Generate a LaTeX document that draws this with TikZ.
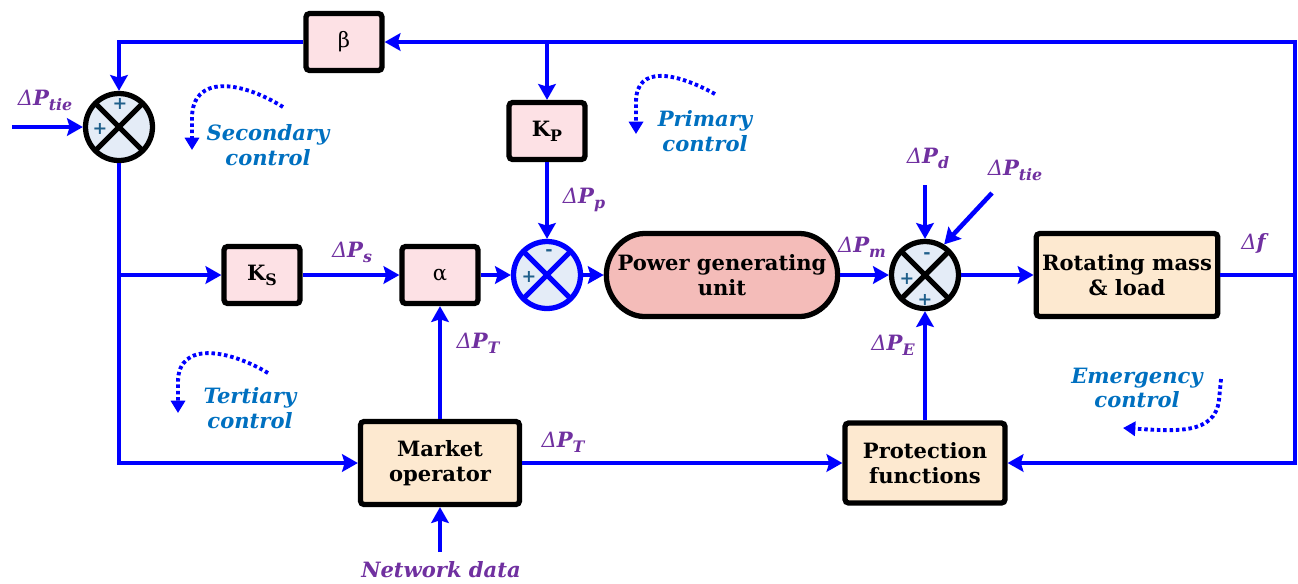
\documentclass[tikz,border=0pt]{standalone}
\usepackage{fontspec}
\setmainfont{DejaVu Serif}
\usetikzlibrary{arrows.meta, shapes.misc, positioning}

\definecolor{flowblue}{HTML}{0000FF}
\definecolor{lblpurple}{HTML}{7030A0}
\definecolor{ctrlblue}{HTML}{0070C0}
\definecolor{gainpink}{HTML}{FDE1E5}
\definecolor{blockbisque}{HTML}{FDE9D0}
\definecolor{unitsalmon}{HTML}{F4BCB9}
\definecolor{sumfill}{HTML}{E4ECF7}
\definecolor{signteal}{HTML}{1F5F8B}

% Delta-P style labels
\newcommand{\lowsub}[1]{\raisebox{-0.45ex}{\small #1}}
\newcommand{\dP}[1]{{\itshape\mdseries Δ}{\bfseries\itshape P\lowsub{#1}}}

\begin{document}
\begin{tikzpicture}[x=0.02cm, y=-0.02cm,
    wire/.style={draw=flowblue, line width=2.6pt},
    flow/.style={wire, -{Stealth[length=9pt,width=10pt,inset=1.5pt]}},
    gain/.style={draw, line width=3pt, rounded corners=2pt, fill=gainpink, minimum width=1.52cm, minimum height=1.14cm, font=\large},
    block/.style={draw, line width=3pt, rounded corners=2pt, fill=blockbisque, font=\bfseries\large, align=center, minimum height=1.66cm},
    sumjunc/.style={circle, draw=#1, line width=3pt, fill=sumfill, minimum size=1.34cm, inner sep=0pt,
        path picture={\draw[#1, line width=3pt] (path picture bounding box.north east) -- (path picture bounding box.south west)
            (path picture bounding box.north west) -- (path picture bounding box.south east);}},
    sumjunc/.default=black,
    sgn/.style={text=signteal, font=\bfseries, inner sep=0pt},
    lbl/.style={text=lblpurple, font=\large, inner sep=1pt},
    ctrl/.style={text=ctrlblue, font=\bfseries\itshape\large, align=center, inner sep=0pt},
    ctrlarc/.style={draw=flowblue, line width=2.2pt, dash pattern=on 2pt off 1.6pt, -{Triangle[length=7pt,width=8pt]}}]
    \useasboundingbox (0,0) rectangle (1298,583);

    % gain blocks
    \node[gain] (beta) at (344,42) {β};
    \node[gain] (kp) at (547,131) {\textbf{K\lowsub{P}}};
    \node[gain] (ks) at (262,275) {\textbf{K\lowsub{S}}};
    \node[gain] (alpha) at (440,275) {α};

    % process blocks
    \node[block, rounded rectangle, fill=unitsalmon, minimum width=4.3cm] (pgu) at (722,275) {Power generating\\unit};
    \node[block, minimum width=3.6cm] (rot) at (1127,275) {Rotating mass\\\& load};
    \node[block, minimum width=3.18cm] (market) at (440,463) {Market\\operator};
    \node[block, minimum width=3.2cm, minimum height=1.6cm] (prot) at (925,463) {Protection\\functions};

    % summing junctions
    \node[sumjunc] (sumA) at (119,127) {};
    \node[sumjunc=flowblue] (sumB) at (547,275) {};
    \node[sumjunc] (sumC) at (925,275) {};
    \node[sgn] (sa1) at (120,104) {+};
    \node[sgn] (sa2) at (100,129) {+};
    \node[sgn] (sb1) at (549,253) {-};
    \node[sgn] (sb2) at (529,277) {+};
    \node[sgn] (sc1) at (927,256) {-};
    \node[sgn] (sc2) at (907,279) {+};
    \node[sgn] (sc3) at (925,300) {+};

    % free ends and corners
    \coordinate (fj) at (1295,275);
    \coordinate (kpj) at (kp.north |- beta.east);
    \coordinate (ksj) at (sumA.south |- ks.west);
    \coordinate (tiein) at (12,127);
    \coordinate (pdin) at (925,185);
    \coordinate (ptiein) at (992,193);
    \coordinate (netin) at (440,552);

    % feedback loops
    \draw[wire] (rot.east) -- (fj);
    \draw[flow] (fj) |- (beta.east);
    \draw[flow] (fj) |- (prot.east);
    \draw[flow] (beta.west) -| (sumA.north);
    \draw[flow] (kpj) -- (kp.north);
    \draw[flow] (tiein) -- (sumA.west);
    \draw[flow] (sumA.south) |- (market.west);
    \draw[flow] (ksj) -- (ks.west);

    % forward path
    \draw[flow] (ks.east) -- (alpha.west);
    \draw[flow] (alpha.east) -- (sumB.west);
    \draw[flow] (kp.south) -- (sumB.north);
    \draw[flow] (sumB.east) -- (pgu.west);
    \draw[flow] (pgu.east) -- (sumC.west);
    \draw[flow] (pdin) -- (sumC.north);
    \draw[flow] (ptiein) -- (sumC.58);
    \draw[flow] (sumC.east) -- (rot.west);
    \draw[flow] (prot.north) -- (sumC.south);
    \draw[flow] (market.north) -- (alpha.south);
    \draw[flow] (market.east) -- (prot.west);
    \draw[flow] (netin) -- (market.south);

    % signal labels
    \node[lbl] (l1) at (45,100) {\dP{tie}};
    \node[lbl] (l2) at (352,252) {\dP{s}};
    \node[lbl] (l3) at (584,200) {\dP{p}};
    \node[lbl] (l4) at (862,247) {\dP{m}};
    \node[lbl] (l5) at (928,158) {\dP{d}};
    \node[lbl] (l6) at (1015,170) {\dP{tie}};
    \node[lbl] (l7) at (1255,243) {{\itshape Δ}\textbf{\textit{f}}};
    \node[lbl] (l8) at (893,345) {\dP{E}};
    \node[lbl] (l9) at (478,343) {\dP{T}};
    \node[lbl] (l10) at (563,442) {\dP{T}};
    \node[lbl, font=\bfseries\itshape\large] (l11) at (441,570) {Network data};

    % control loop names
    \node[ctrl] (sec) at (268,145) {Secondary\\control};
    \node[ctrl] (pri) at (705,131) {Primary\\control};
    \node[ctrl] (ter) at (250,408) {Tertiary\\control};
    \node[ctrl] (emg) at (1137,388) {Emergency\\control};
    \draw[ctrlarc] (283,107) .. controls (240,80) and (192,75) .. (192,118) -- (192,150);
    \draw[ctrlarc] (715,94) .. controls (675,72) and (636,65) .. (636,102) -- (636,134);
    \draw[ctrlarc] (268,373) .. controls (230,350) and (178,340) .. (178,382) -- (178,413);
    \draw[ctrlarc] (1221,379) -- (1219,400) .. controls (1215,435) and (1175,431) .. (1123,428);
\end{tikzpicture}
\end{document}
